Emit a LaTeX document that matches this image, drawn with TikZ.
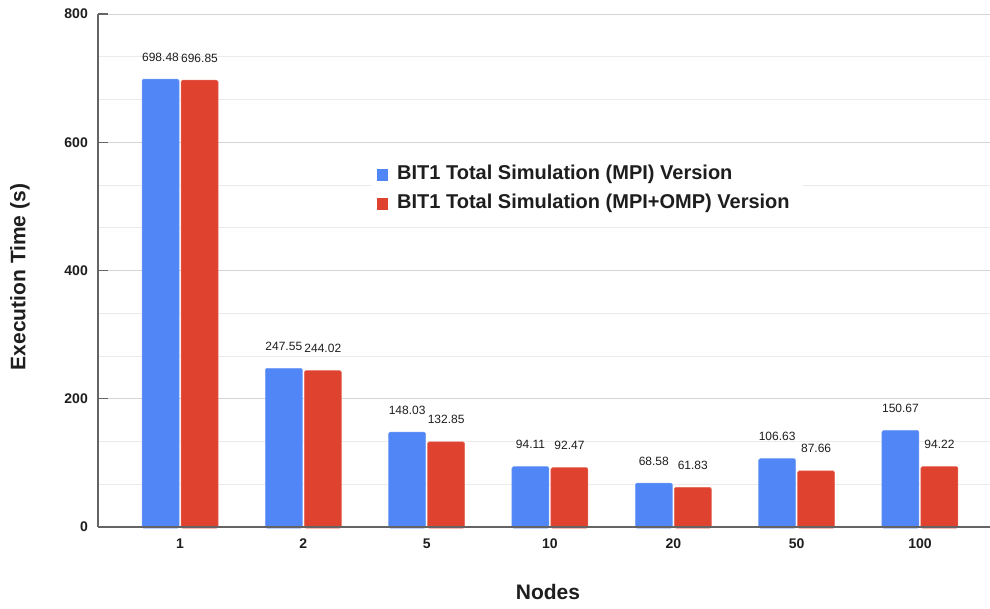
\documentclass[tikz,border=0pt]{standalone}
\usepackage{fontspec}
\setmainfont{Liberation Sans}
\definecolor{mpiblue}{RGB}{80,134,245}
\definecolor{ompred}{RGB}{224,66,48}
\definecolor{majgrid}{RGB}{214,214,214}
\definecolor{mingrid}{RGB}{235,235,235}
\definecolor{axisgray}{RGB}{100,100,100}
\definecolor{txt}{RGB}{30,30,30}
\begin{document}
\begin{tikzpicture}[x=1pt,y=-1pt,
  minorgrid/.style={draw=mingrid,line width=1pt},
  majorgrid/.style={draw=majgrid,line width=1pt},
  axisline/.style={draw=axisgray,line width=1.2pt},
  bluebar/.style={fill=mpiblue,draw=mpiblue!80!white,line width=0.5pt,rounded corners=1.5pt},
  redbar/.style={fill=ompred,draw=ompred!80!white,line width=0.5pt,rounded corners=1.5pt},
  vallabel/.style={font=\fontsize{12}{14}\selectfont,text=txt,inner sep=0pt},
  ticklabel/.style={font=\fontsize{14}{16}\selectfont\bfseries,text=txt,inner sep=0pt},
  titlelabel/.style={font=\fontsize{21}{23}\selectfont\bfseries,text=txt,inner sep=0pt},
  legendtext/.style={font=\fontsize{20}{22}\selectfont\bfseries,text=txt,inner sep=0pt,anchor=west}]
\useasboundingbox (0,0) rectangle (990,608);
\fill[white] (0,0) rectangle (990,608);
% grid
\foreach \k in {1,2,4,5,7,8,10,11}{
  \draw[minorgrid] (98,{527-42.75*\k}) -- (990,{527-42.75*\k});
}
\foreach \k in {3,6,9,12}{
  \draw[majorgrid] (98,{527-42.75*\k}) -- (990,{527-42.75*\k});
}
% legend background
\fill[white] (372,158) rectangle (803,218);
% bars
\foreach \i/\lab/\a/\b in {0/1/698.48/696.85, 1/2/247.55/244.02, 2/5/148.03/132.85, 3/10/94.11/92.47, 4/20/68.58/61.83, 5/50/106.63/87.66, 6/100/150.67/94.22}{
  \pgfmathsetmacro\cx{180+123.33*\i}
  \pgfmathsetmacro\ya{527-0.64125*\a}
  \pgfmathsetmacro\yb{527-0.64125*\b}
  \draw[bluebar] ({\cx-38},528) rectangle ({\cx-1},\ya);
  \draw[redbar] ({\cx+1},528) rectangle ({\cx+38},\yb);
  \node[vallabel] (va\i) at ({\cx-19.5},{\ya-22}) {\a};
  \node[vallabel] (vb\i) at ({\cx+19.5},{\yb-22}) {\b};
  \node[ticklabel] (cat\i) at (\cx,544) {\lab};
}
% axes
\draw[axisline] (98,14) -- (98,527);
\draw[axisline] (98,527) -- (990,527);
\foreach \k/\v in {0/0,3/200,6/400,9/600,12/800}{
  \draw[axisline] (98,{527-42.75*\k}) -- (108,{527-42.75*\k});
  \node[ticklabel,anchor=east] (tick\v) at (88,{527-42.75*\k}) {\v};
}
% titles
\node[titlelabel,rotate=90] (ytitle) at (20,277) {Execution Time (s)};
\node[titlelabel] (xtitle) at (548,592) {Nodes};
% legend
\fill[mpiblue] (377,169) rectangle (388,181);
\node[legendtext] (leg1) at (397,174.5) {BIT1 Total Simulation (MPI) Version};
\fill[ompred] (377,198) rectangle (388,210);
\node[legendtext] (leg2) at (397,203.5) {BIT1 Total Simulation (MPI+OMP) Version};
\end{tikzpicture}
\end{document}
